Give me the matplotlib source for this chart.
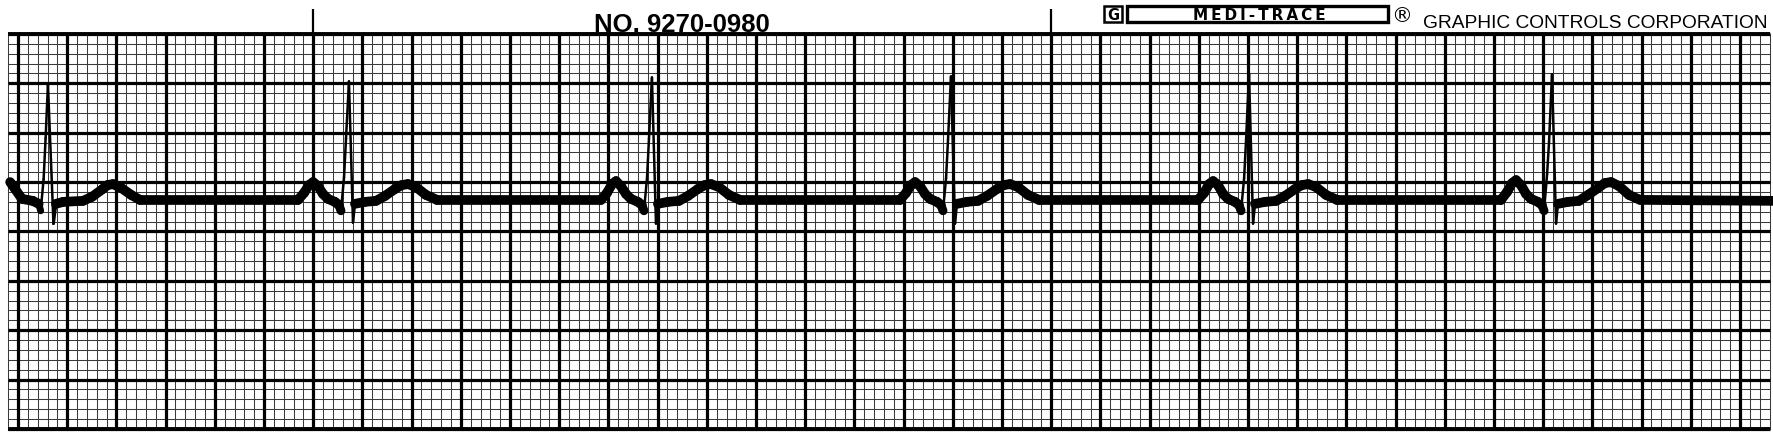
import matplotlib
matplotlib.use('Agg')
import matplotlib.pyplot as plt
import numpy as np
from matplotlib.collections import LineCollection

# ECG trace, read off the strip in small squares (1 mm = 0.04 s horizontally, 0.1 mV vertically)
# x: mm from the left edge of the grid, y: mm up from the bottom edge of the grid
beat1_x = [0.2, 0.7, 1.4, 2.5, 3.1, 3.3, 3.6, 3.8, 4.04, 4.6, 4.85, 5.6, 7.6, 8.5, 9.6, 10.1, 10.65, 11.5, 12.5, 13.4]
beat1_y = [25.0, 24.3, 23.3, 23.1, 22.8, 22.1, 25.3, 29.4, 34.9, 20.8, 22.8, 23.0, 23.1, 23.5, 24.3, 24.7, 24.8, 24.4, 23.7, 23.2]

beat2_x = [29.45, 30.06, 30.57, 30.98, 31.48, 31.99, 32.5, 33.2, 33.6, 33.82, 34.13, 34.33, 34.63, 35.04, 35.24, 36.26, 37.38, 38.29, 39.3, 40.0, 40.63, 41.44, 42.46, 43.58]
beat2_y = [23.2, 23.9, 24.7, 25.0, 24.6, 23.8, 23.3, 23.0, 22.7, 22.1, 25.5, 29.4, 35.2, 20.9, 22.8, 23.0, 23.1, 23.6, 24.3, 24.7, 24.8, 24.5, 23.7, 23.2]

beat3_x = [60.24, 60.85, 61.36, 61.77, 62.27, 62.78, 63.29, 63.99, 64.39, 64.61, 64.92, 65.12, 65.42, 65.83, 66.03, 67.05, 68.17, 69.08, 70.09, 70.79, 71.42, 72.23, 73.25, 74.37]
beat3_y = [23.2, 23.9, 24.8, 25.1, 24.6, 23.8, 23.3, 23.0, 22.7, 22.1, 25.4, 29.4, 35.6, 20.8, 22.8, 23.0, 23.1, 23.6, 24.3, 24.7, 24.8, 24.5, 23.7, 23.2]

beat4_x = [90.63, 91.24, 91.75, 92.16, 92.66, 93.17, 93.68, 94.38, 94.78, 95.0, 95.31, 95.51, 95.81, 96.22, 96.42, 97.44, 98.56, 99.47, 100.48, 101.18, 101.81, 102.62, 103.64, 104.76]
beat4_y = [23.2, 23.9, 24.7, 25.0, 24.6, 23.8, 23.3, 23.0, 22.7, 22.1, 25.4, 29.3, 35.7, 20.8, 22.8, 23.0, 23.1, 23.6, 24.3, 24.7, 24.8, 24.5, 23.7, 23.2]

beat5_x = [120.92, 121.53, 122.04, 122.45, 122.95, 123.46, 123.97, 124.67, 125.07, 125.29, 125.6, 125.8, 126.1, 126.51, 126.71, 127.73, 128.85, 129.76, 130.77, 131.47, 132.1, 132.91, 133.93, 135.05]
beat5_y = [23.2, 23.9, 24.8, 25.1, 24.7, 23.8, 23.3, 23.0, 22.7, 22.1, 25.4, 29.3, 36.0, 20.8, 22.8, 23.0, 23.1, 23.6, 24.3, 24.7, 24.8, 24.5, 23.7, 23.2]

beat6_x = [151.71, 152.32, 152.83, 153.24, 153.74, 154.25, 154.76, 155.46, 155.86, 156.08, 156.39, 156.59, 156.89, 157.3, 157.5, 158.52, 159.64, 160.55, 161.56, 162.26, 162.89, 163.7, 164.72, 165.84, 179.6]
beat6_y = [23.2, 24.0, 24.9, 25.2, 24.7, 23.8, 23.3, 23.0, 22.7, 22.1, 25.8, 29.1, 35.9, 20.8, 22.8, 23.0, 23.1, 23.7, 24.4, 24.9, 25.0, 24.6, 23.7, 23.2, 23.1]

trace_x = np.array(beat1_x + beat2_x + beat3_x + beat4_x + beat5_x + beat6_x)
trace_y = np.array(beat1_y + beat2_y + beat3_y + beat4_y + beat5_y + beat6_y)

# paper layout
n_small_x, n_small_y = 179, 40
major_x0 = 1          # first heavy vertical line sits one small square in
second_marks = [31, 106]   # heavy lines that run up into the header

fig = plt.figure(figsize=(17.74, 4.39), dpi=100)
ax = fig.add_axes([0, 0, 1, 1])
ax.set_xlim(-0.833, 179.45)
ax.set_ylim(-0.911, 43.54)
ax.axis('off')

# grid
minor_x = np.arange(0, n_small_x + 1)
minor_y = np.arange(0, n_small_y + 1)
major_x = np.arange(major_x0, n_small_x + 1, 5)
major_y = np.arange(0, n_small_y + 1, 5)
ax.vlines(minor_x, 0, n_small_y, color='#3a3a3a', lw=0.75, zorder=1)
ax.hlines(minor_y, 0, n_small_x, color='#3a3a3a', lw=0.75, zorder=1)
ax.vlines(major_x, 0, n_small_y, color='black', lw=2.3, zorder=2)
ax.hlines(major_y, 0, n_small_x, color='black', lw=2.3, zorder=2)
ax.hlines([0, n_small_y], 0, n_small_x, color='black', lw=2.8, zorder=2)
ax.vlines(second_marks, n_small_y, 42.5, color='black', lw=1.6, zorder=2)

# pen trace: thick where it moves slowly, thin on the fast QRS strokes
pts = np.column_stack([trace_x, trace_y])
segs = np.stack([pts[:-1], pts[1:]], axis=1)
slope = np.abs(np.diff(trace_y) / np.diff(trace_x))
widths = np.clip(7.0 * 2.5 / np.maximum(slope, 1e-6), 1.8, 7.0)
lc = LineCollection(segs, linewidths=widths, colors='black', capstyle='round', joinstyle='round', zorder=5)
ax.add_collection(lc)

# header printing
fig.text(682 / 1774, 1 - 32 / 439, 'NO. 9270-0980', ha='center', va='baseline',
         fontsize=18.5, fontweight='bold', family='Liberation Sans', color='black')

# G box and MEDI-TRACE box
ax.add_patch(plt.Rectangle(((1104 - 8.2) / 9.84, (430 - 23) / 9.875), 18 / 9.84, 16 / 9.875,
                           fill=False, lw=1.8, ec='black', zorder=3))
fig.text(1113 / 1774, 1 - 15 / 439, 'G', ha='center', va='center', fontsize=10.5,
         fontweight='bold', family='DejaVu Sans')
ax.add_patch(plt.Rectangle(((1127 - 8.2) / 9.84, (430 - 23) / 9.875), 261 / 9.84, 16 / 9.875,
                           fill=False, lw=2.4, ec='black', zorder=3))
fig.text(1259 / 1774, 1 - 20.5 / 439, 'M\u2009E\u2009D\u2009I\u2009-\u2009T\u2009R\u2009A\u2009C\u2009E',
         ha='center', va='baseline', fontsize=11, fontweight='bold', family='DejaVu Sans')
fig.text(1402 / 1774, 1 - 16 / 439, '\u00ae', ha='center', va='center', fontsize=15,
         family='DejaVu Sans')
fig.text(1595 / 1774, 1 - 28 / 439, 'GRAPHIC CONTROLS CORPORATION', ha='center', va='baseline',
         fontsize=13.8, family='Liberation Sans')

fig.savefig('out.png', dpi=100, facecolor='white')
